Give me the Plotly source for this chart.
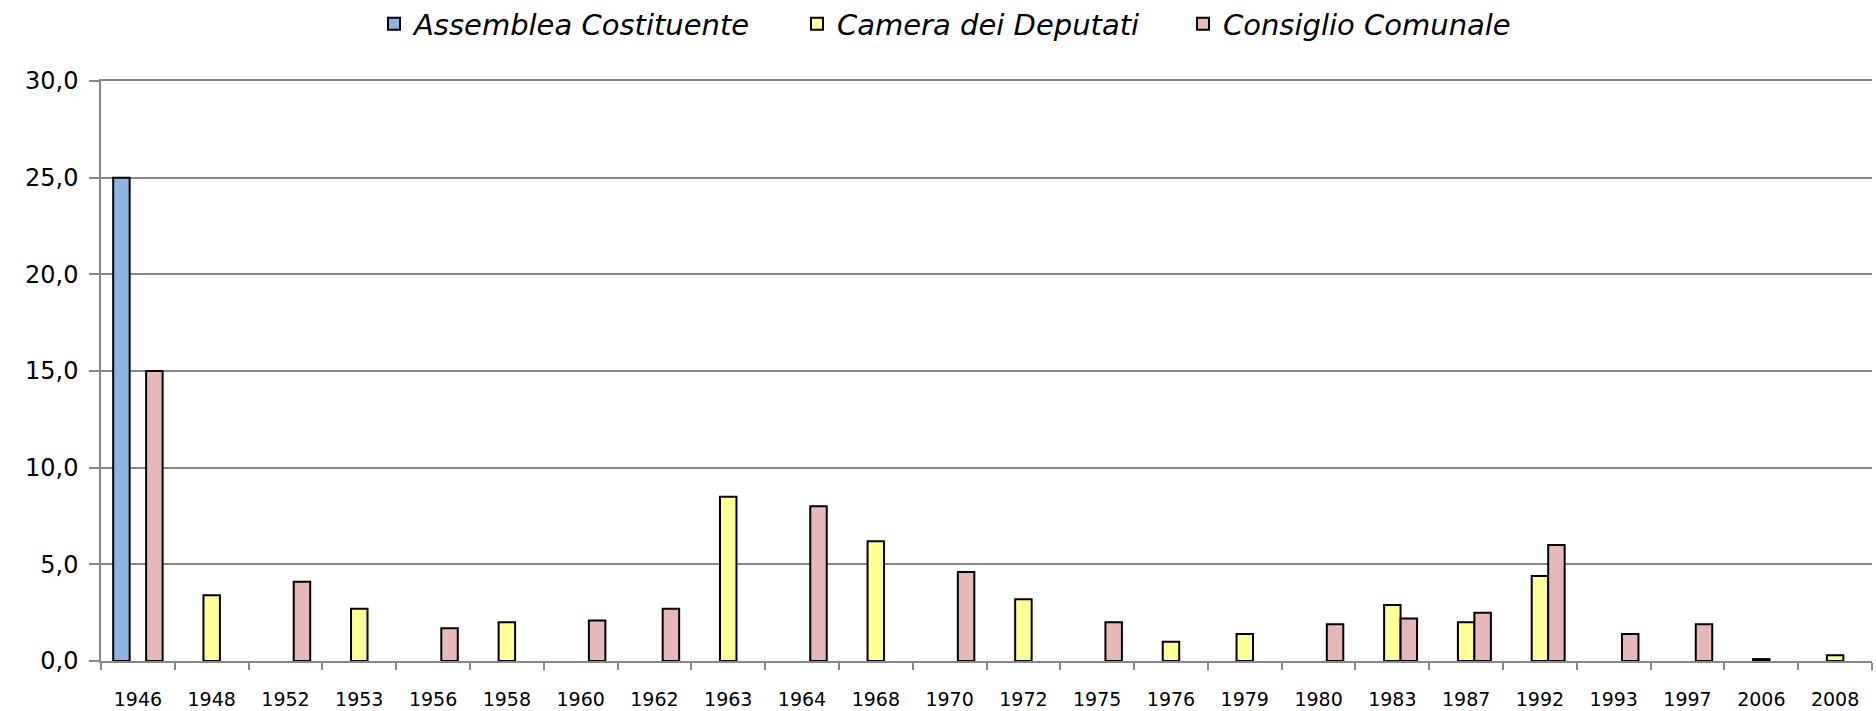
import plotly.graph_objects as go

years = ["1946", "1948", "1952", "1953", "1956", "1958", "1960", "1962", "1963", "1964",
         "1968", "1970", "1972", "1975", "1976", "1979", "1980", "1983", "1987", "1992",
         "1993", "1997", "2006", "2008"]

assemblea = [25.0, None, None, None, None, None, None, None, None, None,
             None, None, None, None, None, None, None, None, None, None,
             None, None, None, None]

camera = [None, 3.4, None, 2.7, None, 2.0, None, None, 8.5, None,
          6.2, None, 3.2, None, 1.0, 1.4, None, 2.9, 2.0, 4.4,
          None, None, 0.1, 0.3]

consiglio = [15.0, None, 4.1, None, 1.7, None, 2.1, 2.7, None, 8.0,
             None, 4.6, None, 2.0, None, None, 1.9, 2.2, 2.5, 6.0,
             1.4, 1.9, None, None]

series_names = ["Assemblea Costituente", "Camera dei Deputati", "Consiglio Comunale"]
colors = ["#8EB4E3", "#FFFF99", "#E6B9B8"]
legend_ids = ["legend", "legend2", "legend3"]
legend_x = [374, 797, 1183]

fig = go.Figure()
for name, vals, col, lg in zip(series_names, [assemblea, camera, consiglio], colors, legend_ids):
    fig.add_trace(go.Bar(
        x=years, y=vals, name=name, legend=lg,
        marker=dict(color=col, line=dict(color="black", width=2)),
    ))

grey = "#878787"
legend_font = dict(family="DejaVu Sans", size=29, style="italic", color="black")
legends = {}
for lg, lx in zip(legend_ids, legend_x):
    legends[lg] = dict(
        orientation="h",
        xref="container", yref="container",
        x=lx / 1876, xanchor="left",
        y=1 - 24 / 711, yanchor="middle",
        font=legend_font,
        bgcolor="rgba(0,0,0,0)",
    )

fig.update_layout(
    width=1876, height=711,
    margin=dict(l=101, r=4, t=81, b=50, autoexpand=False),
    plot_bgcolor="white", paper_bgcolor="white",
    barmode="group", bargap=0.33, bargroupgap=0,
    separators=",.",
    font=dict(family="DejaVu Sans", color="black"),
    showlegend=True,
    **legends,
)
fig.update_xaxes(
    type="category", tickson="boundaries",
    showline=True, linecolor=grey, linewidth=1.5, mirror=True,
    ticks="outside", ticklen=7, tickcolor=grey, tickwidth=1.5,
    tickfont=dict(family="DejaVu Sans", size=19, color="black"),
    ticklabelstandoff=20,
    showgrid=False, automargin=False,
)
fig.update_yaxes(
    range=[0, 30], dtick=5, tickformat=".1f",
    showline=True, linecolor=grey, linewidth=1.5,
    ticks="outside", ticklen=10, tickcolor=grey, tickwidth=1.5,
    showgrid=True, gridcolor=grey, gridwidth=1.5,
    zeroline=False, automargin=False,
    tickfont=dict(family="DejaVu Sans", size=24, color="black"),
    ticklabelstandoff=6,
)

fig.write_html(
    "out.html",
    config={"displayModeBar": False},
    post_script="document.body.style.margin='0';document.body.style.overflow='hidden';",
)
